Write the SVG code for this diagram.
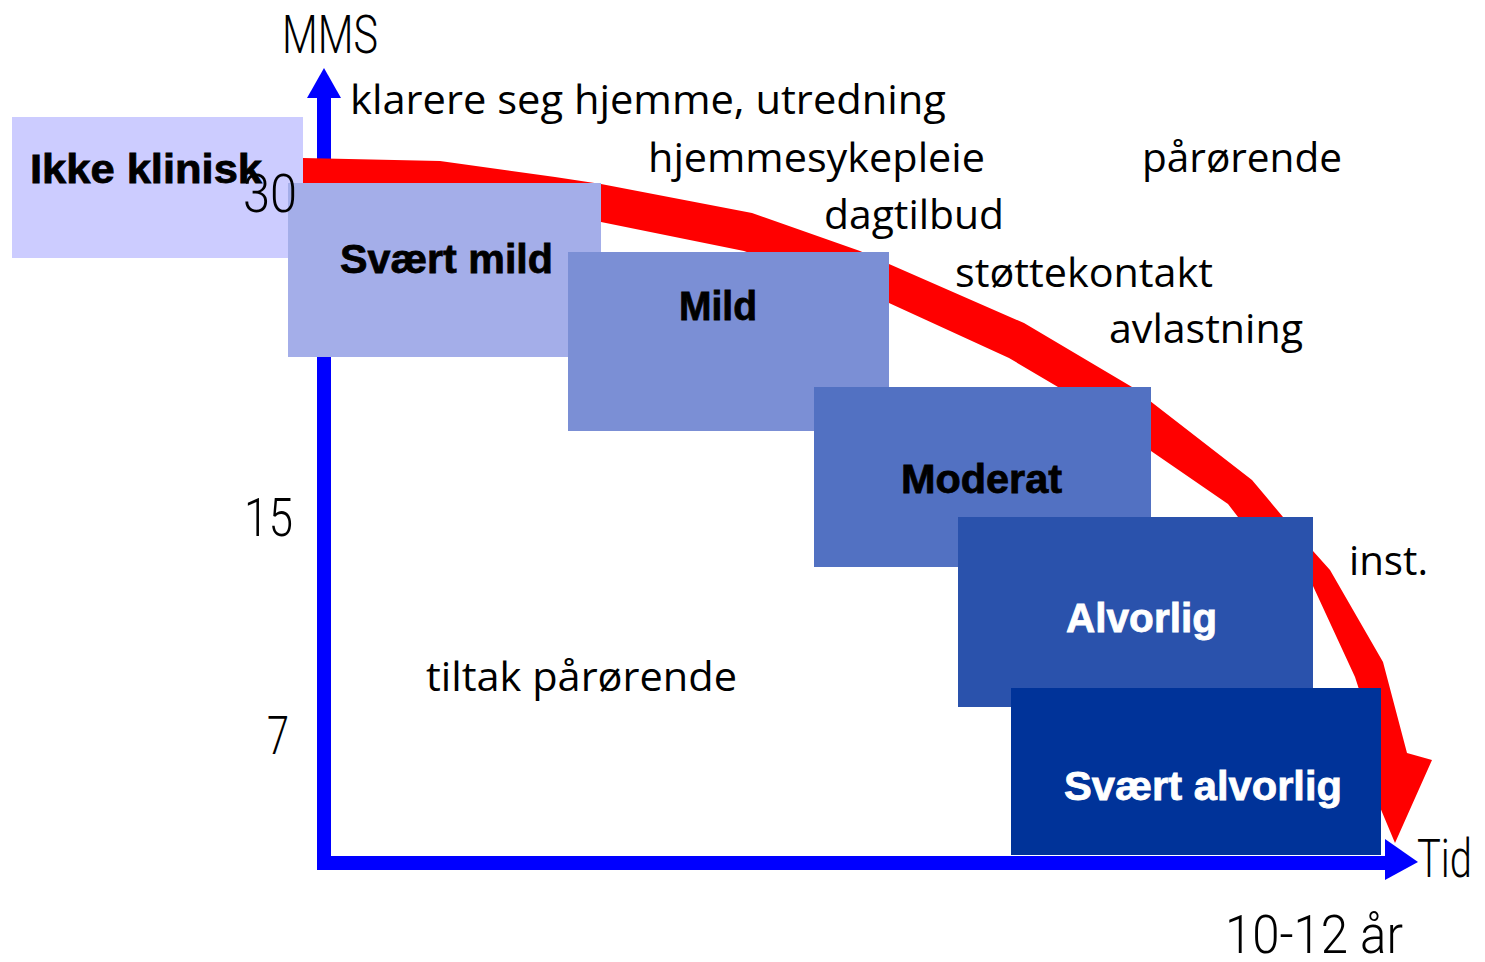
<svg xmlns="http://www.w3.org/2000/svg" width="1485" height="962" viewBox="0 0 1485 962">
<style>
.box-label{font-family:"Liberation Sans",Arial,sans-serif;font-weight:bold;font-size:41px;stroke-width:0.8px}
.dark{fill:#000;stroke:#000}
.light{fill:#fff;stroke:#fff}
.note{font-family:"Open Sans","Liberation Sans",sans-serif;font-size:40px;fill:#000}
.axis-label{font-family:Roboto,"Liberation Sans",sans-serif;font-weight:300;font-size:54px;fill:#000}
.axis{fill:#0000ff}
</style>
<rect width="1485" height="962" fill="#fff"/>
<g id="connectors">
  <g id="y-axis">
    <rect class="axis" x="317" y="96" width="14" height="774"/>
    <polygon class="axis" points="307,98 324,68 341,98"/>
  </g>
  <g id="x-axis">
    <rect class="axis" x="317" y="856" width="1070" height="14"/>
    <polygon class="axis" points="1385,839 1418,862 1385,880"/>
  </g>
  <polygon id="decline-curve" fill="#ff0000" points="303,158 440,161 555,177 601,184 752,213 860,251 889,264 1024,323 1132,387 1252,480 1283,517 1313,551 1330,570 1383,662 1407,753 1432,760 1395,843 1356,750 1381,757 1355,677 1313,586 1238,517 1228,504 1058,387 1009,358 889,303 744,251 601,222 555,212 440,186 303,183"/>
</g>
<g id="node-ikke-klinisk">
  <rect x="12" y="117" width="291" height="141" fill="#ccccff"/>
</g>
<g id="node-svaert-mild">
  <rect x="288" y="183" width="313" height="174" fill="#a4aee9"/>
  <text class="box-label dark" x="340" y="273" textLength="213" lengthAdjust="spacingAndGlyphs">Svært mild</text>
</g>
<g id="node-mild">
  <rect x="568" y="252" width="321" height="179" fill="#7b8fd5"/>
  <text class="box-label dark" x="679" y="320" textLength="78" lengthAdjust="spacingAndGlyphs">Mild</text>
</g>
<g id="node-moderat">
  <rect x="814" y="387" width="337" height="180" fill="#5271c2"/>
  <text class="box-label dark" x="901" y="493" textLength="161" lengthAdjust="spacingAndGlyphs">Moderat</text>
</g>
<g id="node-alvorlig">
  <rect x="958" y="517" width="355" height="190" fill="#2a52ac"/>
  <text class="box-label light" x="1066" y="632" textLength="151" lengthAdjust="spacingAndGlyphs">Alvorlig</text>
</g>
<g id="node-svaert-alvorlig">
  <rect x="1011" y="688" width="370" height="167" fill="#003399"/>
  <text class="box-label light" x="1064" y="800" textLength="278" lengthAdjust="spacingAndGlyphs">Svært alvorlig</text>
</g>
<g id="labels">
  <text class="axis-label" x="282" y="53" font-size="53" textLength="96" lengthAdjust="spacingAndGlyphs">MMS</text>
  <text class="axis-label" x="243" y="212" font-size="56" textLength="54" lengthAdjust="spacingAndGlyphs">30</text>
  <text class="box-label dark" x="30" y="183" textLength="232" lengthAdjust="spacingAndGlyphs">Ikke klinisk</text>
  <text class="axis-label" x="244" y="536" font-size="56" textLength="49" lengthAdjust="spacingAndGlyphs">15</text>
  <text class="axis-label" x="267" y="754" font-size="56" textLength="22" lengthAdjust="spacingAndGlyphs">7</text>
  <text class="axis-label" x="1417" y="877" textLength="55" lengthAdjust="spacingAndGlyphs">Tid</text>
  <text class="axis-label" x="1225" y="953" font-size="50" textLength="178" lengthAdjust="spacingAndGlyphs">10-12 år</text>
  <text class="note" x="350" y="114" textLength="596" lengthAdjust="spacingAndGlyphs">klarere seg hjemme, utredning</text>
  <text class="note" x="648" y="172" textLength="337" lengthAdjust="spacingAndGlyphs">hjemmesykepleie</text>
  <text class="note" x="1142" y="172" textLength="200" lengthAdjust="spacingAndGlyphs">pårørende</text>
  <text class="note" x="824" y="229" textLength="180" lengthAdjust="spacingAndGlyphs">dagtilbud</text>
  <text class="note" x="955" y="287" textLength="258" lengthAdjust="spacingAndGlyphs">støttekontakt</text>
  <text class="note" x="1109" y="343" textLength="194" lengthAdjust="spacingAndGlyphs">avlastning</text>
  <text class="note" x="1349" y="575" textLength="79" lengthAdjust="spacingAndGlyphs">inst.</text>
  <text class="note" x="426" y="691" textLength="311" lengthAdjust="spacingAndGlyphs">tiltak pårørende</text>
</g>
</svg>
